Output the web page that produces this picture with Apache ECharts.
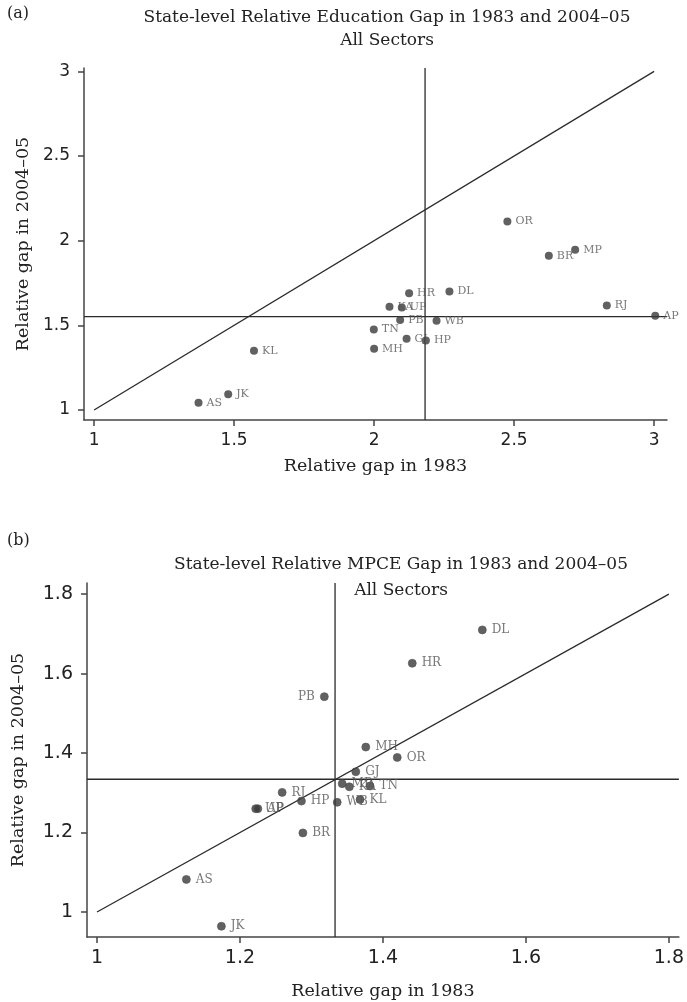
<!DOCTYPE html>
<html>
<head>
<meta charset="utf-8">
<script src="https://cdn.jsdelivr.net/npm/echarts@6/dist/echarts.min.js"></script>
<style>
  html, body { margin: 0; padding: 0; background: #fff; }
  #chart { width: 687px; height: 1002px; }
</style>
</head>
<body>
<div id="chart"></div>
<script>
// Panel (a): relative education gap by state
const eduStates = ['AS','JK','KL','TN','MH','KA','UP','PB','GJ','HP','WB','HR','DL','OR','BR','MP','RJ','AP'];
const edu1983   = [1.373,1.479,1.571,1.999,2.000,2.055,2.099,2.093,2.116,2.185,2.223,2.125,2.269,2.476,2.624,2.718,2.831,3.004];
const edu2004   = [1.043,1.093,1.350,1.476,1.362,1.610,1.606,1.531,1.421,1.411,1.527,1.689,1.700,2.114,1.911,1.946,1.618,1.557];
const eduMean1983 = 2.182;
const eduMean2004 = 1.551;
const eduTicks = [1, 1.5, 2, 2.5, 3];
const eduDiagonal = [[1, 1], [3, 3]];

// Panel (b): relative MPCE gap by state
const mpceStates = ['AS','JK','UP','AP','RJ','HP','BR','PB','WB','MP','KA','GJ','KL','MH','TN','OR','HR','DL'];
const mpce1983   = [1.125,1.174,1.222,1.225,1.259,1.286,1.288,1.318,1.336,1.343,1.353,1.362,1.368,1.376,1.382,1.420,1.441,1.539];
const mpce2004   = [1.082,0.964,1.260,1.260,1.301,1.279,1.199,1.542,1.276,1.323,1.315,1.353,1.283,1.415,1.317,1.389,1.626,1.710];
const mpceMean1983 = 1.333;
const mpceMean2004 = 1.334;
const mpceTicks = [1, 1.2, 1.4, 1.6, 1.8];
const mpceDiagonal = [[1, 1], [1.8, 1.8]];

// axis extents
const eduX = [0.964, 3.046], eduY = [0.941, 3.02];
const mpceX = [0.986, 1.814], mpceY = [0.937, 1.828];

const SERIF = '"DejaVu Serif", serif';
const SANS = '"DejaVu Sans", sans-serif';
const INK = '#2b2b2b';

function makeAxis(gridIndex, range, ticks, name, nameGap, fontSize, isY) {
  return {
    type: 'value', gridIndex, min: range[0], max: range[1],
    name, nameLocation: 'middle', nameGap,
    nameRotate: isY ? 90 : 0,
    nameTextStyle: { fontFamily: SERIF, fontSize: 17.5, color: '#222' },
    axisLine: { show: true, onZero: false, lineStyle: { color: '#444', width: 1.5 } },
    axisTick: { show: true, length: 6, customValues: ticks, lineStyle: { color: '#444', width: 1.5 } },
    axisLabel: { customValues: ticks, fontFamily: SANS, fontSize, color: '#222', margin: isY ? 14 : 12 },
    splitLine: { show: false }
  };
}

function points(xs, ys, names) {
  return xs.map((x, i) => ({ value: [x, ys[i]], name: names[i] }));
}

function refLine(xi, yi, data) {
  return {
    type: 'line', xAxisIndex: xi, yAxisIndex: yi, data,
    symbol: 'none', silent: true,
    lineStyle: { color: INK, width: 1.3 }, z: 1
  };
}

const eduPts = points(edu1983, edu2004, eduStates);
const mpcePts = points(mpce1983, mpce2004, mpceStates).map(p =>
  p.name === 'PB' ? Object.assign(p, { label: { position: 'left' } }) : p);

const chart = echarts.init(document.getElementById('chart'), null, { renderer: 'canvas' });

const titleFont = '17px ' + SERIF;

chart.setOption({
  animation: false,
  backgroundColor: '#fff',
  grid: [
    { left: 84, right: 20, top: 68, height: 352 },
    { left: 87, right: 3, top: 583, height: 354 }
  ],
  xAxis: [
    makeAxis(0, eduX, eduTicks, 'Relative gap in 1983', 37, 17, false),
    makeAxis(1, mpceX, mpceTicks, 'Relative gap in 1983', 45, 19, false)
  ],
  yAxis: [
    makeAxis(0, eduY, eduTicks, 'Relative gap in 2004–05', 52, 17, true),
    makeAxis(1, mpceY, mpceTicks, 'Relative gap in 2004–05', 60, 19, true)
  ],
  graphic: [
    { type: 'text', x: 7, y: 14, style: { text: '(a)', font: '16px ' + SERIF, fill: '#222', textVerticalAlign: 'middle' } },
    { type: 'text', x: 387, y: 18, style: { text: 'State-level Relative Education Gap in 1983 and 2004–05', font: titleFont, fill: '#222', textAlign: 'center', textVerticalAlign: 'middle' } },
    { type: 'text', x: 387, y: 41, style: { text: 'All Sectors', font: titleFont, fill: '#222', textAlign: 'center', textVerticalAlign: 'middle' } },
    { type: 'text', x: 7, y: 541, style: { text: '(b)', font: '16px ' + SERIF, fill: '#222', textVerticalAlign: 'middle' } },
    { type: 'text', x: 401, y: 565, style: { text: 'State-level Relative MPCE Gap in 1983 and 2004–05', font: titleFont, fill: '#222', textAlign: 'center', textVerticalAlign: 'middle' } },
    { type: 'text', x: 401, y: 591, style: { text: 'All Sectors', font: titleFont, fill: '#222', textAlign: 'center', textVerticalAlign: 'middle' } }
  ],
  series: [
    refLine(0, 0, eduDiagonal),
    refLine(0, 0, [[eduX[0], eduMean2004], [eduX[1], eduMean2004]]),
    refLine(0, 0, [[eduMean1983, eduY[0]], [eduMean1983, eduY[1]]]),
    {
      type: 'scatter', xAxisIndex: 0, yAxisIndex: 0, data: eduPts,
      symbol: 'circle', symbolSize: 8,
      itemStyle: { color: '#3a3a3a' },
      label: {
        show: true, position: 'right', distance: 4, offset: [0, 3],
        formatter: p => p.name,
        fontFamily: SERIF, fontSize: 11, color: '#555'
      },
      labelLayout: { hideOverlap: false },
      z: 3
    },
    refLine(1, 1, mpceDiagonal),
    refLine(1, 1, [[mpceX[0], mpceMean2004], [mpceX[1], mpceMean2004]]),
    refLine(1, 1, [[mpceMean1983, mpceY[0]], [mpceMean1983, mpceY[1]]]),
    {
      type: 'scatter', xAxisIndex: 1, yAxisIndex: 1, data: mpcePts,
      symbol: 'circle', symbolSize: 8,
      itemStyle: { color: '#3a3a3a', borderColor: '#555', borderWidth: 0.8 },
      label: {
        show: true, position: 'right', distance: 5, offset: [0, 3],
        formatter: p => p.name,
        fontFamily: SERIF, fontSize: 12, color: '#555'
      },
      labelLayout: { hideOverlap: false },
      z: 3
    }
  ]
});
</script>
</body>
</html>
